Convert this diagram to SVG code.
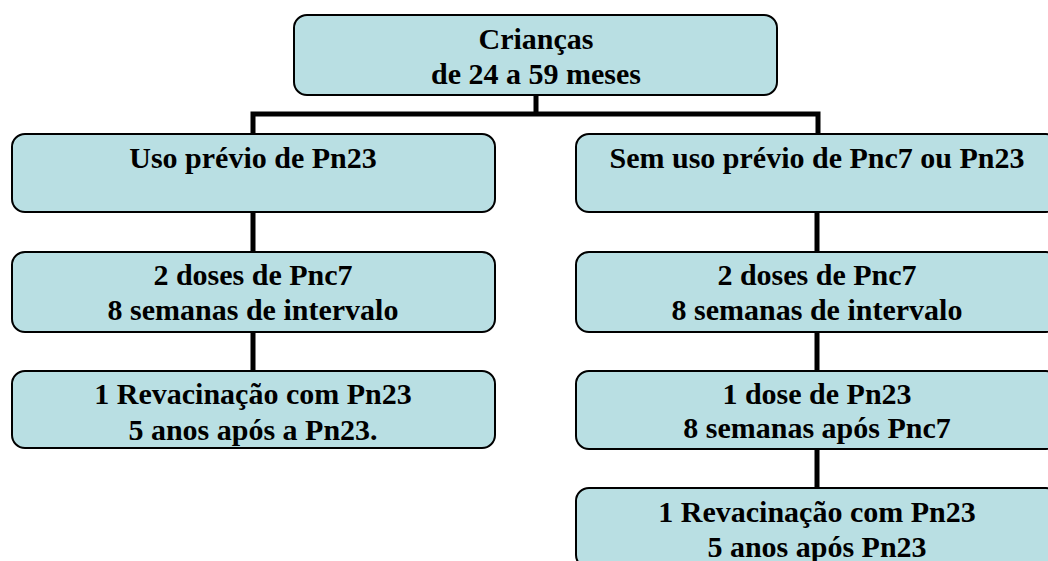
<svg xmlns="http://www.w3.org/2000/svg" width="1048" height="561" viewBox="0 0 1048 561">
<style>
.box{fill:#B9DFE3;stroke:#000;stroke-width:2}
.t{font-weight:700;font-size:30px;fill:#000;text-anchor:middle}
.c{stroke:#000;stroke-width:5;fill:none}
</style>
<rect width="1048" height="561" fill="#fff"/>
<g id="connectors">
<path class="c" d="M536 95V114M253 136V114H818V136"/>
<path class="c" d="M253 212V253M253 332V372"/>
<path class="c" d="M817 212V253M817 332V372M817 449V489"/>
</g>
<g font-family="Liberation Serif, Times New Roman, Times, serif">
<g id="n-root"><rect class="box" x="294" y="15" width="483" height="80" rx="13"/><text class="t" x="536" y="49">Crianças</text><text class="t" x="536" y="84">de 24 a 59 meses</text></g>
<g id="n-left1"><rect class="box" x="12" y="134" width="483" height="78" rx="13"/><text class="t" x="253" y="168">Uso prévio de Pn23</text></g>
<g id="n-left2"><rect class="box" x="12" y="252" width="483" height="80" rx="13"/><text class="t" x="253" y="285">2 doses de Pnc7</text><text class="t" x="253" y="320">8 semanas de intervalo</text></g>
<g id="n-left3"><rect class="box" x="12" y="371" width="483" height="77" rx="13"/><text class="t" x="253" y="404">1 Revacinação com Pn23</text><text class="t" x="253" y="440">5 anos após a Pn23.</text></g>
<g id="n-right1"><rect class="box" x="576" y="134" width="483" height="78" rx="13"/><text class="t" x="817" y="168">Sem uso prévio de Pnc7 ou Pn23</text></g>
<g id="n-right2"><rect class="box" x="576" y="252" width="483" height="80" rx="13"/><text class="t" x="817" y="285">2 doses de Pnc7</text><text class="t" x="817" y="320">8 semanas de intervalo</text></g>
<g id="n-right3"><rect class="box" x="576" y="371" width="483" height="78" rx="13"/><text class="t" x="817" y="404">1 dose de Pn23</text><text class="t" x="817" y="438">8 semanas após Pnc7</text></g>
<g id="n-right4"><rect class="box" x="576" y="488" width="483" height="80" rx="13"/><text class="t" x="817" y="522">1 Revacinação com Pn23</text><text class="t" x="817" y="557">5 anos após Pn23</text></g>
</g>
</svg>
